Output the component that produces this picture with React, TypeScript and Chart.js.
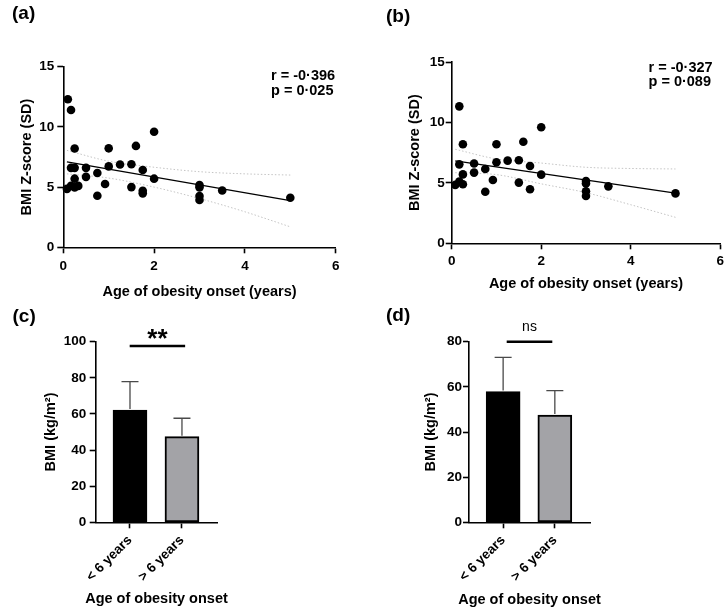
import React, { useEffect, useRef } from 'react';
import { Chart, registerables } from 'chart.js';

Chart.register(...registerables);

const FONT = '"Liberation Sans", Arial, Helvetica, sans-serif';

// ---------- Panel (a): all patients ----------
const onsetA = [0.1, 0.17, 0.25, 0.17, 0.25, 0.25, 0.08, 0.17, 0.25, 0.33, 0.5, 0.5, 0.75, 0.75, 0.92, 1, 1, 1.25, 1.5, 1.5, 1.6, 1.75, 1.75, 1.75, 2, 2, 3, 3, 3, 3, 3.5, 5];
const zScoreA = [12.3, 11.4, 8.2, 6.6, 6.6, 5.7, 4.85, 5.1, 4.98, 5.1, 6.6, 5.85, 6.17, 4.28, 5.26, 8.22, 6.72, 6.88, 6.9, 5.0, 8.42, 6.42, 4.7, 4.48, 9.6, 5.7, 5.17, 4.98, 4.26, 3.93, 4.72, 4.12];
const fitXA = [0.08, 5];
const fitYA = [7.1, 3.87];
const bandXA = [0.08, 1, 2, 3, 4, 5];
const upperA = [8.05, 7.15, 6.65, 6.28, 6.1, 6.0];
const lowerA = [6.1, 5.75, 5.0, 4.05, 2.95, 1.7];
const statsA = ['r = -0·396', 'p = 0·025'];

// ---------- Panel (b) ----------
const onsetB = [0.17, 0.25, 0.17, 0.25, 0.08, 0.17, 0.25, 0.5, 0.5, 0.75, 0.75, 0.92, 1, 1, 1.25, 1.5, 1.5, 1.6, 1.75, 1.75, 2, 2, 3, 3, 3, 3, 3.5, 5];
const zScoreB = [11.33, 8.19, 6.53, 5.7, 4.83, 5.1, 4.88, 6.6, 5.85, 6.15, 4.27, 5.24, 8.2, 6.7, 6.84, 6.87, 5.02, 8.4, 6.4, 4.47, 9.6, 5.68, 5.15, 4.95, 4.3, 3.92, 4.71, 4.13];
const fitXB = [0.08, 5];
const fitYB = [6.82, 4.15];
const bandXB = [0.08, 1, 2, 3, 4, 5];
const upperB = [7.78, 6.98, 6.64, 6.29, 6.19, 6.15];
const lowerB = [5.84, 5.68, 4.92, 4.19, 3.19, 2.15];
const statsB = ['r = -0·327', 'p = 0·089'];

// ---------- Panels (c) and (d) ----------
const groups = ['< 6 years', '> 6 years'];
const bmiMeanC = [62.2, 47.4];
const bmiSdC = [15.7, 10.2];
const bmiMeanD = [57.9, 47.5];
const bmiSdD = [15.2, 10.8];

const X_TITLE_SCATTER = 'Age of obesity onset (years)';
const Y_TITLE_SCATTER = 'BMI Z-score (SD)';
const X_TITLE_BAR = 'Age of obesity onset';
const Y_TITLE_BAR = 'BMI (kg/m²)';

function axisBase(tickPad: number, title: string, titlePad: any, extraTicks: any = {}, showTitle = true) {
  return {
    border: { display: true, color: '#000', width: 1.6 },
    grid: {
      display: true,
      drawOnChartArea: false,
      drawTicks: true,
      tickLength: 6,
      tickWidth: 1.6,
      tickColor: '#000',
      offset: false,
    },
    ticks: {
      color: '#000',
      padding: tickPad,
      font: { family: FONT, size: 13.5, weight: 'bold' },
      ...extraTicks,
    },
    title: {
      display: showTitle,
      text: title,
      color: '#000',
      padding: titlePad,
      font: { family: FONT, size: 14.5, weight: 'bold' },
    },
  };
}

const pairs = (xs: number[], ys: number[]) => xs.map((x, i) => ({ x, y: ys[i] }));

function scatterConfig(p: any): any {
  const band = {
    showLine: true,
    pointRadius: 0,
    borderColor: '#c4c4c4',
    borderWidth: 1,
    borderDash: [1.5, 2],
    cubicInterpolationMode: 'monotone',
    fill: false,
  };
  return {
    type: 'scatter',
    data: {
      datasets: [
        // first dataset is drawn on top
        { data: pairs(p.xs, p.ys), pointRadius: 4.3, backgroundColor: '#000', borderColor: '#000', borderWidth: 0, clip: false },
        { data: pairs(p.fitX, p.fitY), showLine: true, pointRadius: 0, borderColor: '#000', borderWidth: 1.3 },
        { ...band, data: pairs(p.bandX, p.upper) },
        { ...band, data: pairs(p.bandX, p.lower) },
      ],
    },
    options: {
      animation: false,
      responsive: false,
      maintainAspectRatio: false,
      devicePixelRatio: 1,
      events: [],
      layout: { padding: p.pad },
      plugins: { legend: { display: false }, tooltip: { enabled: false } },
      scales: {
        x: {
          type: 'linear',
          min: 0,
          max: 6,
          ...axisBase(p.xTickPad, X_TITLE_SCATTER, { top: 0, bottom: 0 }, { stepSize: 2 }),
          afterFit: (s: any) => { s.height = p.xH; },
        },
        y: {
          type: 'linear',
          min: 0,
          max: 15,
          ...axisBase(p.yTickPad, Y_TITLE_SCATTER, { top: 3, bottom: 0 }, { stepSize: 5 }),
          afterFit: (s: any) => { s.width = p.yW; },
        },
      },
    },
  };
}

function errorBarsPlugin(sds: number[]) {
  return {
    id: 'errbars',
    afterDatasetsDraw(chart: any) {
      const meta = chart.getDatasetMeta(0);
      const ys = chart.scales.y;
      const ctx = chart.ctx;
      const data = chart.data.datasets[0].data;
      ctx.save();
      ctx.strokeStyle = '#4a4a4a';
      ctx.lineWidth = 1.3;
      meta.data.forEach((bar: any, i: number) => {
        const v = data[i].y;
        const base = ys.getPixelForValue(v);
        const top = ys.getPixelForValue(v + sds[i]);
        ctx.beginPath();
        ctx.moveTo(bar.x, base - 1);
        ctx.lineTo(bar.x, top);
        ctx.moveTo(bar.x - 8.5, top);
        ctx.lineTo(bar.x + 8.5, top);
        ctx.stroke();
      });
      ctx.restore();
    },
  };
}

function sigPlugin(x1: number, x2: number, yv: number, label: string, font: string, above: number) {
  return {
    id: 'sig',
    afterDraw(chart: any) {
      const { x, y } = chart.scales;
      const ctx = chart.ctx;
      const p1 = x.getPixelForValue(x1);
      const p2 = x.getPixelForValue(x2);
      const py = y.getPixelForValue(yv);
      ctx.save();
      ctx.strokeStyle = '#000';
      ctx.lineWidth = 2.6;
      ctx.beginPath();
      ctx.moveTo(p1, py);
      ctx.lineTo(p2, py);
      ctx.stroke();
      ctx.font = font;
      ctx.fillStyle = '#000';
      ctx.textAlign = 'center';
      ctx.textBaseline = 'alphabetic';
      const m = ctx.measureText(label);
      const inkCenter = py - above;
      const baseline = inkCenter + (m.actualBoundingBoxAscent - m.actualBoundingBoxDescent) / 2;
      ctx.fillText(label, (p1 + p2) / 2, baseline);
      ctx.restore();
    },
  };
}

function barConfig(p: any): any {
  return {
    type: 'bar',
    data: {
      datasets: [
        {
          data: pairs([1, 2], p.means),
          backgroundColor: ['#000000', '#a3a3a7'],
          borderColor: '#000',
          borderWidth: 2,
          borderSkipped: false,
          barThickness: 34,
        },
      ],
    },
    plugins: [errorBarsPlugin(p.sds), sigPlugin(p.sig[0], p.sig[1], p.sig[2], p.sigLabel, p.sigFont, p.sigAbove)],
    options: {
      animation: false,
      responsive: false,
      maintainAspectRatio: false,
      devicePixelRatio: 1,
      events: [],
      layout: { padding: p.pad },
      plugins: { legend: { display: false }, tooltip: { enabled: false } },
      scales: {
        x: {
          type: 'linear',
          min: 0.34,
          max: 2.68,
          offset: false,
          ...axisBase(4, X_TITLE_BAR, { top: 0, bottom: 0 }, {
            minRotation: 45,
            maxRotation: 45,
            autoSkip: false,
            callback: (v: number) => groups[Math.round(v) - 1] ?? '',
          }, false),
          afterBuildTicks: (s: any) => { s.ticks = groups.map((_, i) => ({ value: i + 1 })); },
          afterFit: (s: any) => { s.height = p.xH; },
        },
        y: {
          type: 'linear',
          min: 0,
          max: p.yMax,
          ...axisBase(p.yTickPad, Y_TITLE_BAR, { top: 3, bottom: 0 }, { stepSize: 20 }),
          afterFit: (s: any) => { s.width = p.yW; },
        },
      },
    },
  };
}

function ChartCanvas({ left, top, width, height, build }: any) {
  const ref = useRef<HTMLCanvasElement>(null);
  useEffect(() => {
    const chart = new Chart(ref.current as HTMLCanvasElement, build());
    return () => chart.destroy();
  }, []);
  return (
    <canvas
      ref={ref}
      width={width}
      height={height}
      style={{ position: 'absolute', left, top, width, height, display: 'block' }}
    />
  );
}

function Txt({ x, baseline, size, weight, center, children }: any) {
  return (
    <div
      style={{
        position: 'absolute',
        left: center ? x - 200 : x,
        width: center ? 400 : undefined,
        textAlign: center ? 'center' : 'left',
        top: baseline - 0.8465 * size,
        fontFamily: FONT,
        fontSize: size,
        fontWeight: weight,
        lineHeight: `${size}px`,
        whiteSpace: 'pre',
        color: '#000',
      }}
    >
      {children}
    </div>
  );
}

export default function App() {
  return (
    <div style={{ position: 'absolute', left: 0, top: 0, width: 728, height: 616, background: '#fff', overflow: 'hidden' }}>
      <ChartCanvas
        left={0}
        top={0}
        width={364}
        height={301}
        build={() =>
          scatterConfig({
            xs: onsetA, ys: zScoreA, fitX: fitXA, fitY: fitYA, bandX: bandXA, upper: upperA, lower: lowerA,
            pad: { left: 15, top: 66.7, right: 28.3, bottom: 0 }, yW: 48.3, xH: 53.7, xTickPad: 5, yTickPad: 3,
          })
        }
      />
      <ChartCanvas
        left={364}
        top={0}
        width={364}
        height={301}
        build={() =>
          scatterConfig({
            xs: onsetB, ys: zScoreB, fitX: fitXB, fitY: fitYB, bandX: bandXB, upper: upperB, lower: lowerB,
            pad: { left: 39.3, top: 62, right: 4.7, bottom: 8 }, yW: 48.4, xH: 49.7, xTickPad: 4, yTickPad: 1,
          })
        }
      />
      <ChartCanvas
        left={0}
        top={301}
        width={364}
        height={315}
        build={() =>
          barConfig({
            means: bmiMeanC, sds: bmiSdC, yMax: 100,
            sig: [0.994, 2.061, 97.6], sigLabel: '**', sigFont: `bold 26px ${FONT}`, sigAbove: 12,
            pad: { left: 38.8, top: 40.7, right: 146.7, bottom: 9 }, yW: 56.9, xH: 84.7, yTickPad: 3.5,
          })
        }
      />
      <ChartCanvas
        left={364}
        top={301}
        width={364}
        height={315}
        build={() =>
          barConfig({
            means: bmiMeanD, sds: bmiSdD, yMax: 80,
            sig: [1.069, 1.951, 80], sigLabel: 'ns', sigFont: `14px ${FONT}`, sigAbove: 15,
            pad: { left: 55.4, top: 40.7, right: 138, bottom: 7.8 }, yW: 49.6, xH: 85.9, yTickPad: 1,
          })
        }
      />
      <Txt x={12} baseline={19.5} size={19} weight="bold">(a)</Txt>
      <Txt x={386} baseline={22} size={19} weight="bold">(b)</Txt>
      <Txt x={12.5} baseline={322} size={19} weight="bold">(c)</Txt>
      <Txt x={386} baseline={321} size={19} weight="bold">(d)</Txt>
      <Txt x={271} baseline={80} size={14.5} weight="bold">{statsA[0]}</Txt>
      <Txt x={271} baseline={95} size={14.5} weight="bold">{statsA[1]}</Txt>
      <Txt x={648.5} baseline={72} size={14.5} weight="bold">{statsB[0]}</Txt>
      <Txt x={648.5} baseline={86.5} size={14.5} weight="bold">{statsB[1]}</Txt>
      <Txt x={156.5} baseline={603.5} size={14.5} weight="bold" center>{X_TITLE_BAR}</Txt>
      <Txt x={529.5} baseline={604.5} size={14.5} weight="bold" center>{X_TITLE_BAR}</Txt>
    </div>
  );
}
